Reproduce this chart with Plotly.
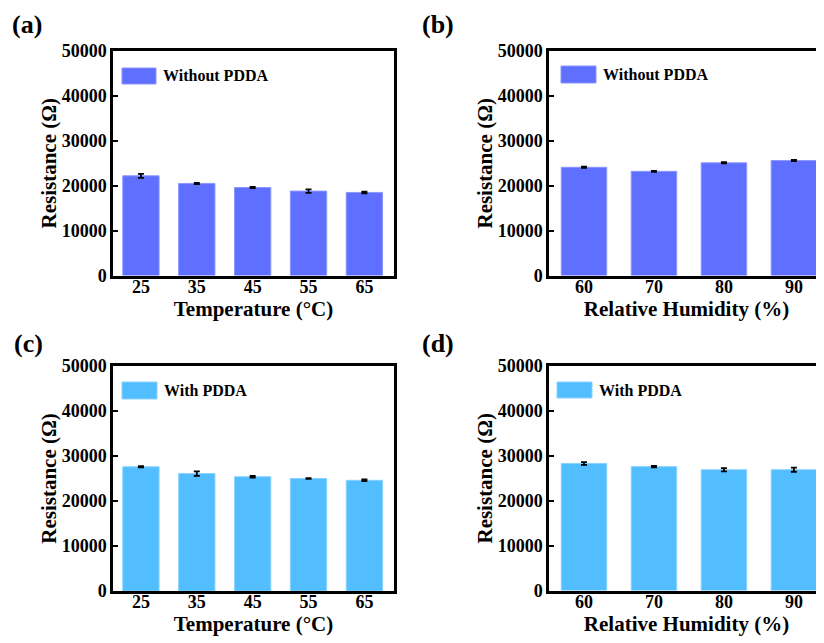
import plotly.graph_objects as go

# ---- data ----
temp_labels = ["25", "35", "45", "55", "65"]
rh_labels = ["60", "70", "80", "90"]

a_vals = [22200, 20500, 19600, 18800, 18500]
a_err = [450, 150, 150, 400, 200]
b_vals = [24100, 23200, 25100, 25600]
b_err = [120, 120, 150, 120]
c_vals = [27600, 26100, 25400, 25000, 24600]
c_err = [150, 500, 200, 100, 200]
d_vals = [28300, 27600, 26900, 26900]
d_err = [300, 150, 350, 450]

panel_letters = ["(a)", "(b)", "(c)", "(d)"]
legend_texts = ["Without PDDA", "Without PDDA", "With PDDA", "With PDDA"]
x_titles = ["Temperature (°C)", "Relative Humidity (%)", "Temperature (°C)", "Relative Humidity (%)"]
y_title = "Resistance (Ω)"

# ---- style ----
PAGE_W, PAGE_H = 824, 643
OFF = 8  # default page body margin
W, H = PAGE_W - OFF, PAGE_H - OFF
FONT = "Liberation Serif"
C_BLUE = "#5F6FFF"
C_BLUE_EDGE = "#8A96FF"
C_SKY = "#52BDFF"
C_SKY_EDGE = "#8AD2FF"

def px_x(v):
    return min(1.0, max(0.0, (v - OFF) / W))

def px_y(v):
    return min(1.0, max(0.0, 1 - (v - OFF) / H))

# panel geometry in page pixels: (left, right, top, bottom)
geom = [
    (113, 394, 51, 275.5),
    (549, 824, 51, 275.5),
    (113, 394, 366, 591),
    (549, 824, 366, 590.5),
]

series = [
    (temp_labels, a_vals, a_err, C_BLUE, C_BLUE_EDGE),
    (rh_labels, b_vals, b_err, C_BLUE, C_BLUE_EDGE),
    (temp_labels, c_vals, c_err, C_SKY, C_SKY_EDGE),
    (rh_labels, d_vals, d_err, C_SKY, C_SKY_EDGE),
]

xranges = [[-0.5, 4.53], [-0.5, 3.43], [-0.5, 4.53], [-0.5, 3.43]]

fig = go.Figure()
layout = dict(
    width=W, height=H, autosize=False,
    margin=dict(l=0, r=0, t=0, b=0, pad=0, autoexpand=False),
    paper_bgcolor="white", plot_bgcolor="white",
    showlegend=False,
    font=dict(family=FONT, color="black"),
    bargap=0.35,
)

shapes = []
annotations = []

legend_geom = [
    (122, 156, 68, 84, 161),
    (561, 596, 66, 83, 601),
    (122, 157, 382, 399, 162),
    (557, 592, 382, 398, 597),
]
letter_pos = [(27, 8), (438, 8), (28, 327), (438, 327)]

for i, ((cats, vals, errs, col, edge), (l, r, t, b)) in enumerate(zip(series, geom)):
    n = i + 1
    xa = "x" if n == 1 else f"x{n}"
    ya = "y" if n == 1 else f"y{n}"
    fig.add_trace(go.Bar(
        x=cats, y=vals, xaxis=xa, yaxis=ya,
        marker=dict(color=col, line=dict(color=edge, width=1)),
        error_y=dict(type="data", array=errs, visible=True,
                     color="black", thickness=1.8, width=3),
    ))
    right_panel = (i % 2 == 1)
    layout["xaxis" if n == 1 else f"xaxis{n}"] = dict(
        domain=[px_x(l), px_x(r)],
        anchor=ya,
        type="category",
        range=xranges[i],
        automargin=False,
        showline=True, linecolor="black", linewidth=2.5,
        mirror=True,
        ticks="",
        ticklabelstandoff=-7,
        showgrid=False, zeroline=False,
        tickfont=dict(family=FONT, size=18, weight="bold", color="black"),
        title=dict(text=x_titles[i], standoff=0,
                   font=dict(family=FONT, size=21, weight="bold", color="black")),
        fixedrange=True,
    )
    layout["yaxis" if n == 1 else f"yaxis{n}"] = dict(
        domain=[px_y(b), px_y(t)],
        anchor=xa,
        range=[0, 50000],
        dtick=10000,
        tickformat="d",
        automargin=False,
        showline=True, linecolor="black", linewidth=2.5,
        mirror=(not right_panel),
        ticks="inside", ticklen=5, tickwidth=2, tickcolor="black",
        showgrid=False, zeroline=False,
        tickfont=dict(family=FONT, size=18, weight="bold", color="black"),
        title=dict(text=y_title, standoff=0,
                   font=dict(family=FONT, size=21, weight="bold", color="black")),
        fixedrange=True,
    )
    # manual legend
    sx0, sx1, sy0, sy1, tx = legend_geom[i]
    shapes.append(dict(type="rect", xref="paper", yref="paper",
                       x0=px_x(sx0), x1=px_x(sx1), y0=px_y(sy1), y1=px_y(sy0),
                       fillcolor=col, line=dict(color=edge, width=1)))
    annotations.append(dict(xref="paper", yref="paper",
                            x=px_x(tx), y=px_y((sy0 + sy1) / 2),
                            xanchor="left", yanchor="middle", showarrow=False,
                            text=legend_texts[i],
                            font=dict(family=FONT, size=16, weight="bold", color="black")))
    lx, ly = letter_pos[i]
    annotations.append(dict(xref="paper", yref="paper",
                            x=px_x(lx), y=px_y(ly),
                            xanchor="center", yanchor="top", showarrow=False,
                            text=panel_letters[i],
                            font=dict(family=FONT, size=26, weight="bold", color="black")))

layout["shapes"] = shapes
layout["annotations"] = annotations
fig.update_layout(**layout)
fig.write_html("out.html", config={"displayModeBar": False})
